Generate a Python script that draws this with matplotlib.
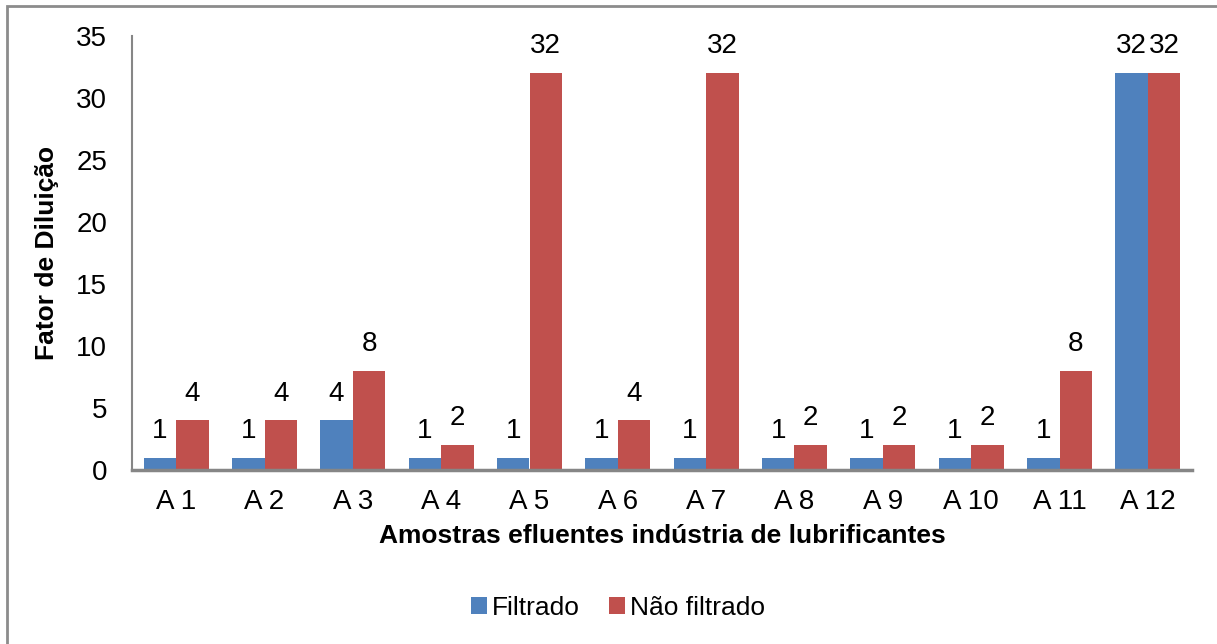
import matplotlib
matplotlib.use("Agg")
import matplotlib.pyplot as plt
import numpy as np
from matplotlib.patches import Rectangle

categories = ["A 1", "A 2", "A 3", "A 4", "A 5", "A 6", "A 7", "A 8", "A 9", "A 10", "A 11", "A 12"]
filtrado = [1, 1, 4, 1, 1, 1, 1, 1, 1, 1, 1, 32]
nao_filtrado = [4, 4, 8, 2, 32, 4, 32, 2, 2, 2, 8, 32]
series_names = ["Filtrado", "Não filtrado"]
yticks = [0, 5, 10, 15, 20, 25, 30, 35]

plt.rcParams["font.family"] = ["Liberation Sans", "DejaVu Sans"]

fig = plt.figure(figsize=(12.17, 6.44), dpi=100)
ax = fig.add_axes([132 / 1217, 1 - 470 / 644, (1192 - 132) / 1217, (470 - 36) / 644])

# chart frame
fig.patches.append(Rectangle((7 / 1217, -0.1), 1.2, 1 - 6 / 644 + 0.1,
                             transform=fig.transFigure, fill=False,
                             edgecolor="#8c8c8c", linewidth=2))

x = np.arange(len(categories))
w = 0.368
b1 = ax.bar(x - w / 2, filtrado, w, color="#4F81BD", label=series_names[0])
b2 = ax.bar(x + w / 2, nao_filtrado, w, color="#C0504D", label=series_names[1])

for bars, vals in ((b1, filtrado), (b2, nao_filtrado)):
    for rect, v in zip(bars, vals):
        ax.annotate(str(v), (rect.get_x() + rect.get_width() / 2, v),
                    xytext=(0, 10), textcoords="offset points",
                    ha="center", va="bottom", fontsize=20, color="black")

ax.set_xlim(-0.5, len(categories) - 0.5)
ax.set_ylim(0, 35)
ax.set_yticks(yticks)
ax.set_xticks(x)
ax.set_xticklabels(categories)
ax.tick_params(axis="both", length=0, labelsize=20)
ax.tick_params(axis="y", pad=18)
ax.tick_params(axis="x", pad=14)

for s in ("top", "right"):
    ax.spines[s].set_visible(False)
ax.spines["left"].set_color("#868686")
ax.spines["left"].set_linewidth(1.5)
ax.spines["bottom"].set_color("#868686")
ax.spines["bottom"].set_linewidth(2.5)

ax.set_ylabel("Fator de Diluição", fontsize=19, fontweight="bold", labelpad=12)
ax.set_xlabel("Amostras efluentes indústria de lubrificantes", fontsize=19,
              fontweight="bold", labelpad=6)

fig.legend(handles=[b1, b2], labels=series_names, loc="center",
           bbox_to_anchor=(618 / 1217, 1 - 608 / 644), ncol=2, frameon=False,
           fontsize=19, handlelength=0.6, handleheight=0.6, handletextpad=0.2,
           columnspacing=1.1)

fig.savefig("out.png", dpi=100, facecolor="white")
